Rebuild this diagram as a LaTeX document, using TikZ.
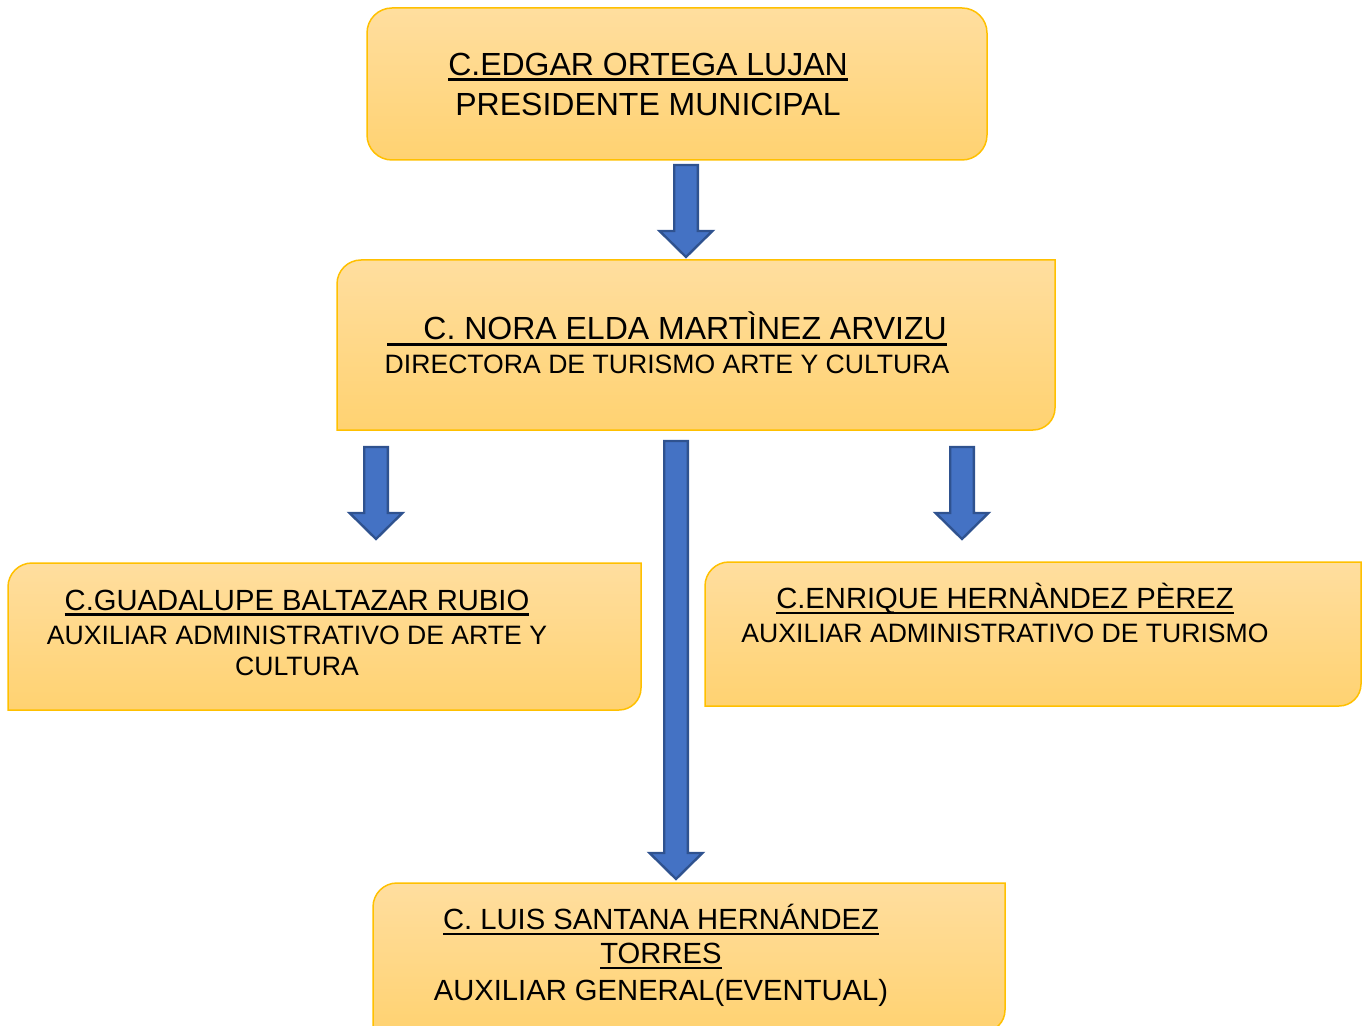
\documentclass[tikz,border=0pt]{standalone}
\usepackage{fontspec}
\setmainfont{Liberation Sans}
\usetikzlibrary{calc}
\definecolor{boxtop}{HTML}{FFDE9F}
\definecolor{boxbottom}{HTML}{FFD271}
\definecolor{boxline}{HTML}{FFC000}
\definecolor{arrowfill}{HTML}{4472C4}
\definecolor{arrowline}{HTML}{2F528F}
\newcommand{\nameline}[1]{\setbox0\hbox{#1}\rlap{\rule[-2.9pt]{\wd0}{1.4pt}}\box0}
\newcommand{\blockarrow}[2]{\path[bluearrow] let \p1=(#1), \p2=(#2) in (\x1-5.9pt,\y1) -- (\x1+5.9pt,\y1) -- (\x1+5.9pt,\y2+13pt) -- (\x1+13.2pt,\y2+13pt) -- (\x1,\y2) -- (\x1-13.2pt,\y2+13pt) -- (\x1-5.9pt,\y2+13pt) -- cycle;}

\begin{document}
\begin{tikzpicture}[x=0.5pt, y=0.5pt,
  box/.style={rectangle, inner sep=0pt, outer sep=0pt},
  frame/.style={draw=boxline, line width=0.75pt, top color=boxtop, bottom color=boxbottom},
  bluearrow/.style={draw=arrowline, line width=1.2pt, fill=arrowfill, line join=miter},
  txt/.style={align=center, inner sep=0pt, font=\fontsize{13.3}{17}\selectfont}]
\useasboundingbox (0,0) rectangle (1364,-1026);

\node(presbox)[box, minimum width=310pt, minimum height=76pt] at (677,-84) {};
\node(dirbox)[box, minimum width=359pt, minimum height=85pt] at (696,-345) {};
\node(artbox)[box, minimum width=316.5pt, minimum height=73.5pt] at (324.5,-636.5) {};
\node(turbox)[box, minimum width=328pt, minimum height=72pt] at (1033,-634) {};
\node(genbox)[box, minimum width=316pt, minimum height=74.5pt] at (689,-957.5) {};

\draw[frame, rounded corners=12.5pt] (presbox.south west) rectangle (presbox.north east);
\foreach \n in {dirbox,artbox,turbox,genbox}
  \draw[frame] (\n.west) [rounded corners=12pt] |- (\n.north) [sharp corners] -| (\n.east) [rounded corners=11pt] |- (\n.south) [sharp corners] -| (\n.west) -- cycle;

\node(pres)[txt, font=\fontsize{16}{20}\selectfont] at (648,-84) {\nameline{C.EDGAR ORTEGA LUJAN}\\PRESIDENTE MUNICIPAL};
\node(dir)[txt] at (667,-343) {{\fontsize{16}{17}\selectfont\nameline{\hspace{1.13em}C. NORA ELDA MARTÌNEZ ARVIZU}}\\DIRECTORA DE TURISMO ARTE Y CULTURA};
\node(art)[txt] at (297,-632.5) {{\fontsize{14.6}{17}\selectfont\nameline{C.GUADALUPE BALTAZAR RUBIO}}\\AUXILIAR ADMINISTRATIVO DE ARTE Y\\[-1.5pt]CULTURA};
\node(tur)[txt] at (1005,-613) {{\fontsize{14.6}{17}\selectfont\nameline{C.ENRIQUE HERNÀNDEZ PÈREZ}}\\AUXILIAR ADMINISTRATIVO DE TURISMO};
\node(gen)[txt, font=\fontsize{14.6}{17}\selectfont] at (661,-955.5) {\nameline{C. LUIS SANTANA HERNÁNDEZ}\\\nameline{TORRES}\\[1.5pt]AUXILIAR GENERAL(EVENTUAL)};

\coordinate (a1s) at ($(686,0 |- presbox.south)+(0,-5)$);
\coordinate (a1e) at ($(686,0 |- dirbox.north)+(0,3)$);
\coordinate (a2s) at ($(376,0 |- dirbox.south)+(0,-17)$);
\coordinate (a2e) at ($(376,0 |- artbox.north)+(0,24)$);
\coordinate (a3s) at ($(676,0 |- dirbox.south)+(0,-11)$);
\coordinate (a3e) at ($(676,0 |- genbox.north)+(0,4)$);
\coordinate (a4s) at ($(962,0 |- dirbox.south)+(0,-17)$);
\coordinate (a4e) at ($(962,0 |- turbox.north)+(0,23)$);

\blockarrow{a1s}{a1e}
\blockarrow{a2s}{a2e}
\blockarrow{a3s}{a3e}
\blockarrow{a4s}{a4e}
\end{tikzpicture}
\end{document}
